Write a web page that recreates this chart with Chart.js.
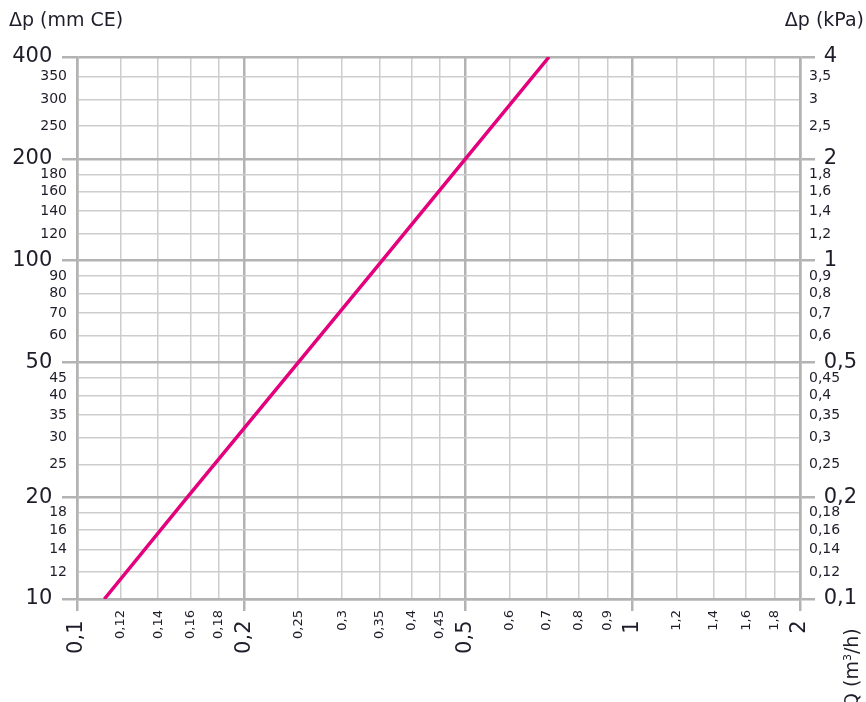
<!DOCTYPE html>
<html>
<head>
<meta charset="utf-8">
<script src="https://cdn.jsdelivr.net/npm/chart.js@4.4.1/dist/chart.umd.min.js"></script>
<style>
  body { margin: 0; background: #fff; }
  .wrap { position: relative; width: 866px; height: 702px; overflow: hidden; }
  .lbl { position: absolute; font-family: "DejaVu Sans", sans-serif; color: #1e1e2a; font-size: 19px; white-space: nowrap; line-height: 22px; }
  .lbl sup { font-size: 11px; line-height: 0; }
  #qLabel { left: 840px; top: 708px; transform: rotate(-90deg); transform-origin: 0 0; }
</style>
</head>
<body>
<div class="wrap">
  <canvas id="dpChart" width="866" height="702"></canvas>
  <div class="lbl" style="left:9px;top:8px;">Δp (mm CE)</div>
  <div class="lbl" style="right:2px;top:8px;">Δp (kPa)</div>
  <div class="lbl" id="qLabel">Q (m<sup>3</sup>/h)</div>
</div>
<script>
// curve (Q in m3/h, dp in mm CE)
const flowRates = [0.112, 0.158, 0.25, 0.354, 0.5, 0.707];
const pressureDrops = [10, 20, 50, 100, 200, 400];

// tick labels
const flowTicks = [0.1, 0.12, 0.14, 0.16, 0.18, 0.2, 0.25, 0.3, 0.35, 0.4, 0.45, 0.5,
  0.6, 0.7, 0.8, 0.9, 1, 1.2, 1.4, 1.6, 1.8, 2];
const flowMajor = [0.1, 0.2, 0.5, 1, 2];
const mmTicks = [10, 12, 14, 16, 18, 20, 25, 30, 35, 40, 45, 50, 60, 70, 80, 90,
  100, 120, 140, 160, 180, 200, 250, 300, 350, 400];
const mmMajor = [10, 20, 50, 100, 200, 400];
const kpaTicks = mmTicks.map((v) => v / 100);
const kpaMajor = mmMajor.map((v) => v / 100);

document.addEventListener("DOMContentLoaded", () => {
  const ctx = document.getElementById("dpChart").getContext("2d");

  const FONT = "DejaVu Sans";
  const MAJOR_GRID = "#b3b3b3";
  const MINOR_GRID = "#cdcdcd";
  const TEXT = "#1e1e2a";

  // comma as decimal separator
  const fmt = (v) => String(Number(v.toFixed(3))).replace(".", ",");
  const tickVal = (c) => (c.tick ? c.tick.value : null);

  const gridFor = (majors, onChart) => ({
    drawOnChartArea: onChart,
    color: (c) => (majors.includes(tickVal(c)) ? MAJOR_GRID : MINOR_GRID),
    lineWidth: (c) => (majors.includes(tickVal(c)) ? 2.5 : 1.5),
    tickColor: (c) => (majors.includes(tickVal(c)) ? MAJOR_GRID : "rgba(0,0,0,0)"),
    tickWidth: 2.5,
    tickLength: 15,
  });

  const fontFor = (majors, small) => (c) => ({
    family: FONT,
    size: majors.includes(tickVal(c)) ? 21 : small,
  });

  const data = {
    datasets: [
      {
        label: "Δp",
        data: flowRates.map((q, i) => ({ x: q, y: pressureDrops[i] })),
        borderColor: "#e4007c",
        borderWidth: 3.5,
        pointRadius: 0,
        tension: 0,
        xAxisID: "x",
        yAxisID: "y",
      },
    ],
  };

  const config = {
    type: "line",
    data: data,
    options: {
      responsive: false,
      animation: false,
      layout: { padding: { top: 57, left: 0, right: 0, bottom: 0 } },
      plugins: { legend: { display: false }, tooltip: { enabled: false } },
      scales: {
        x: {
          type: "logarithmic",
          position: "bottom",
          min: 0.1,
          max: 2,
          afterBuildTicks: (s) => {
            s.ticks = flowTicks.map((v) => ({ value: v }));
          },
          afterFit: (s) => {
            s.height = 103;
          },
          grid: { ...gridFor(flowMajor, true), tickLength: 12 },
          border: { color: MAJOR_GRID, width: 2.5 },
          ticks: {
            autoSkip: false,
            minRotation: 90,
            maxRotation: 90,
            padding: -1,
            color: TEXT,
            font: fontFor(flowMajor, 13),
            callback: (v) => (flowMajor.includes(v) ? fmt(v) + "\u2002" : fmt(v)),
          },
        },
        y: {
          type: "logarithmic",
          position: "left",
          min: 10,
          max: 400,
          afterBuildTicks: (s) => {
            s.ticks = mmTicks.map((v) => ({ value: v }));
          },
          afterFit: (s) => {
            s.width = 77;
          },
          grid: gridFor(mmMajor, true),
          border: { color: MAJOR_GRID, width: 2.5 },
          ticks: {
            autoSkip: false,
            padding: -5,
            color: TEXT,
            font: fontFor(mmMajor, 14),
            callback: (v) => (mmMajor.includes(v) ? fmt(v) + "\u2002\u2009" : fmt(v)),
          },
        },
        y2: {
          type: "logarithmic",
          position: "right",
          min: 0.1,
          max: 4,
          afterBuildTicks: (s) => {
            s.ticks = kpaTicks.map((v) => ({ value: v }));
          },
          afterFit: (s) => {
            s.width = 66;
          },
          grid: gridFor(kpaMajor, false),
          border: { color: MAJOR_GRID, width: 2.5 },
          ticks: {
            autoSkip: false,
            padding: -6,
            color: TEXT,
            font: fontFor(kpaMajor, 14),
            callback: (v) => (kpaMajor.includes(v) ? "\u2002\u2009" + fmt(v) : fmt(v)),
          },
        },
      },
    },
  };

  const dpChart = new Chart(ctx, config);
});
</script>
</body>
</html>
